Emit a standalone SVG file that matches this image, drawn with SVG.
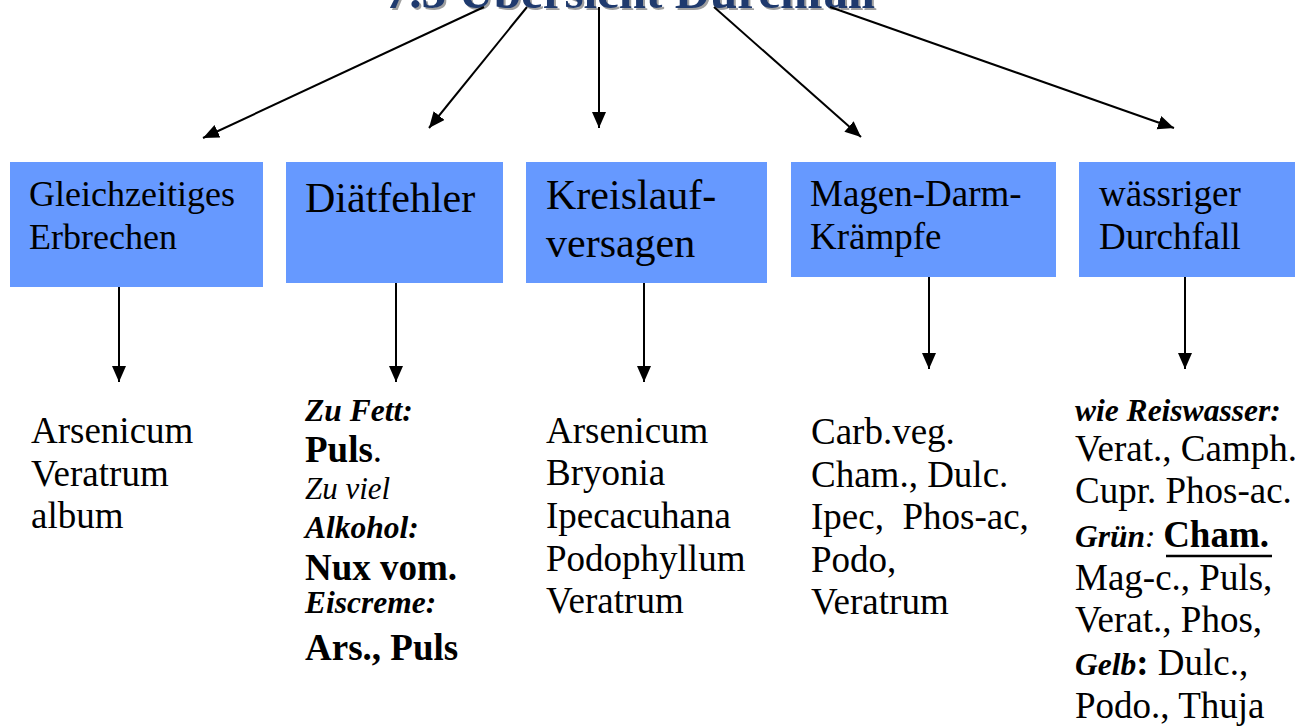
<svg xmlns="http://www.w3.org/2000/svg" width="1315" height="727" viewBox="0 0 1315 727">
<style>
text{font-family:"Liberation Serif","Times New Roman",serif;fill:#000}
.box{fill:#6699FF}
.b1{font-size:36px}
.b2{font-size:42px}
.b4{font-size:37px}
.r{font-size:37px}
.bd{font-size:37px;font-weight:bold}
.bi{font-size:31.5px;font-weight:bold;font-style:italic}
.it{font-size:31px;font-style:italic}
.title{font-size:49px;font-weight:bold}
.conn line{stroke:#000;stroke-width:2;marker-end:url(#ah)}
</style>
<defs>
<marker id="ah" markerUnits="userSpaceOnUse" markerWidth="18" markerHeight="16" refX="16" refY="7" orient="auto">
<path d="M0,0 L16,7 L0,14 z" fill="#000"/>
</marker>
</defs>
<rect width="1315" height="727" fill="#fff"/>
<g id="title">
<text class="title" x="632" y="10" text-anchor="middle" style="fill:#A0A0A0">7.3  Übersicht Durchfall</text>
<text class="title" x="630" y="8" text-anchor="middle" style="fill:#1F3A6E">7.3  Übersicht Durchfall</text>
</g>
<g id="connectors" class="conn">
<line x1="484" y1="7" x2="203" y2="138"/>
<line x1="527" y1="7" x2="429" y2="128"/>
<line x1="599" y1="7" x2="599" y2="128"/>
<line x1="714" y1="7" x2="861" y2="137"/>
<line x1="830" y1="7" x2="1174" y2="128"/>
<line x1="119" y1="287" x2="119" y2="382"/>
<line x1="396" y1="283" x2="396" y2="382"/>
<line x1="644" y1="283" x2="644" y2="382"/>
<line x1="929" y1="277" x2="929" y2="369"/>
<line x1="1185" y1="277" x2="1185" y2="369"/>
</g>
<g id="node-erbrechen">
<rect class="box" x="10" y="162" width="253" height="125"/>
<text class="b1" x="29" y="206">Gleichzeitiges</text>
<text class="b1" x="29" y="249">Erbrechen</text>
</g>
<g id="node-diaetfehler">
<rect class="box" x="286" y="162" width="217" height="121"/>
<text class="b2" x="305" y="212">Diätfehler</text>
</g>
<g id="node-kreislauf">
<rect class="box" x="526" y="162" width="241" height="121"/>
<text class="b2" x="546" y="209">Kreislauf-</text>
<text class="b2" x="546" y="257">versagen</text>
</g>
<g id="node-kraempfe">
<rect class="box" x="791" y="162" width="265" height="115"/>
<text class="b4" x="810" y="206">Magen-Darm-</text>
<text class="b4" x="810" y="249">Krämpfe</text>
</g>
<g id="node-waessrig">
<rect class="box" x="1079" y="162" width="216" height="115"/>
<text class="b4" x="1099" y="206">wässriger</text>
<text class="b4" x="1099" y="249">Durchfall</text>
</g>
<g id="list-erbrechen">
<text class="r" x="31" y="443">Arsenicum</text>
<text class="r" x="31" y="486">Veratrum</text>
<text class="r" x="31" y="528">album</text>
</g>
<g id="list-diaetfehler">
<text class="bi" x="305" y="421">Zu Fett:</text>
<text x="305" y="462"><tspan class="bd">Puls</tspan><tspan class="r">.</tspan></text>
<text class="it" x="305" y="499">Zu viel</text>
<text class="bi" x="305" y="538">Alkohol:</text>
<text class="bd" x="305" y="580">Nux vom.</text>
<text class="bi" x="305" y="613">Eiscreme:</text>
<text class="bd" x="305" y="660">Ars., Puls</text>
</g>
<g id="list-kreislauf">
<text class="r" x="546" y="443">Arsenicum</text>
<text class="r" x="546" y="485">Bryonia</text>
<text class="r" x="546" y="528">Ipecacuhana</text>
<text class="r" x="546" y="571">Podophyllum</text>
<text class="r" x="546" y="613">Veratrum</text>
</g>
<g id="list-kraempfe">
<text class="r" x="811" y="444">Carb.veg.</text>
<text class="r" x="811" y="487">Cham., Dulc.</text>
<text class="r" x="811" y="529" xml:space="preserve">Ipec,  Phos-ac,</text>
<text class="r" x="811" y="572">Podo,</text>
<text class="r" x="811" y="614">Veratrum</text>
</g>
<g id="list-waessrig">
<text class="bi" x="1075" y="421">wie Reiswasser:</text>
<text class="r" x="1075" y="461">Verat., Camph.</text>
<text class="r" x="1075" y="503">Cupr. Phos-ac.</text>
<text x="1075" y="547"><tspan class="bi">Grün</tspan><tspan class="it">: </tspan><tspan class="bd">Cham.</tspan></text>
<line x1="1166" y1="556" x2="1272" y2="556" stroke="#000" stroke-width="2.5"/>
<text class="r" x="1075" y="590">Mag-c., Puls,</text>
<text class="r" x="1075" y="632">Verat., Phos,</text>
<text x="1075" y="675"><tspan class="bi">Gelb</tspan><tspan class="bd">:</tspan><tspan class="r"> Dulc.,</tspan></text>
<text class="r" x="1075" y="718">Podo., Thuja</text>
</g>
</svg>
